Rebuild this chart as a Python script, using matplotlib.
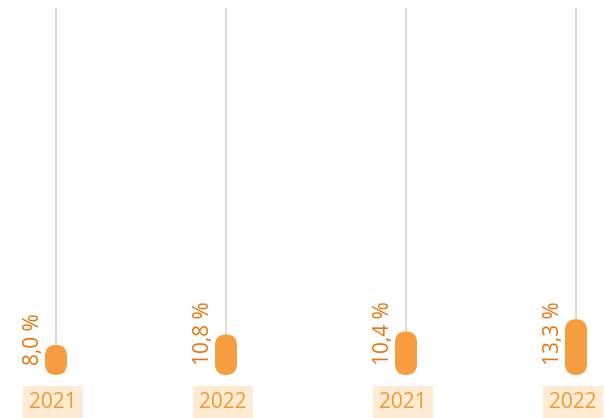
import matplotlib.pyplot as plt
from matplotlib.patches import FancyBboxPatch

plt.rcParams['font.family'] = ['Open Sans', 'DejaVu Sans']

# two groups, each with its own scale
years_left = ['2021', '2022']
values_left = [8.0, 10.8]
years_right = ['2021', '2022']
values_right = [10.4, 13.3]

BAR = '#f69d3f'
LABEL = '#e8730c'
YEAR = '#f39a2e'
YEAR_BG = '#fdebd3'
GRID = '#d9d9d9'

W, H = 605, 418
fig = plt.figure(figsize=(W / 100, H / 100), dpi=100)

bottom_px, top_px = 375, 8
ax_h = (bottom_px - top_px) / H
ax_y = (H - bottom_px) / H
step = 170.0  # px between bars of a group


def panel(left_px, width_px, first_px, years, values, ymax):
    ax = fig.add_axes([left_px / W, ax_y, width_px / W, ax_h])
    x0 = -(first_px - left_px) / step
    ax.set_xlim(x0, x0 + width_px / step)
    ax.set_ylim(0, ymax)
    ax.axis('off')
    px_x = 1 / step
    px_y = ymax / (bottom_px - top_px)
    bw = 22 * px_x
    r = 11 * px_x
    for i, (yr, v) in enumerate(zip(years, values)):
        ax.vlines(i, v, ymax, color=GRID, lw=1.3, zorder=1)
        box = FancyBboxPatch((i - bw / 2, 0), bw, v,
                             boxstyle=f'round,pad=0,rounding_size={r}',
                             mutation_aspect=px_y / px_x,
                             fc=BAR, ec='none', zorder=2)
        ax.add_patch(box)
        ax.annotate(f'{v:.1f} %'.replace('.', ','), xy=(i, 0),
                    xytext=(-23, 10), textcoords='offset pixels',
                    rotation=90, ha='center', va='bottom',
                    fontsize=15, color=LABEL)
        ax.annotate(yr, xy=(i, 0), xytext=(-3, -28), textcoords='offset pixels',
                    ha='center', va='center', fontsize=15, color=YEAR,
                    annotation_clip=False,
                    bbox=dict(boxstyle='square,pad=0.3', fc=YEAR_BG, ec='none'))
    return ax


panel(0, 302.5, 56, years_left, values_left, 97.6)
panel(302.5, 302.5, 406, years_right, values_right, 87.4)

fig.savefig('out.png', dpi=100)
